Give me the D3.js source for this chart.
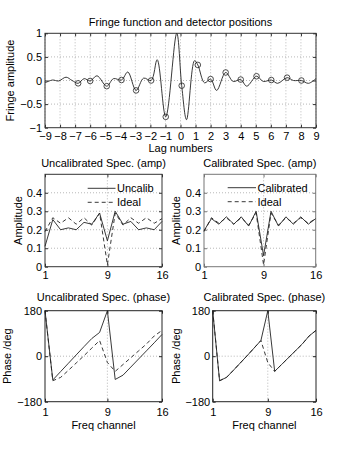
<!DOCTYPE html>
<html><head><meta charset="utf-8">
<script src="https://cdn.jsdelivr.net/npm/d3@7"></script>
<style>
body{margin:0;background:#fff;}
text{font-family:"Liberation Sans",Arial,Helvetica,sans-serif;font-size:11px;fill:#000;}
</style></head><body><svg id="c" width="349" height="453"></svg>
<script>
// ---- Data ----
const lagX = [-9, -8.5, -8.1, -7.6, -7.2, -6.8, -6.4, -6.0, -5.55, -4.9, -4.45, -3.92, -3.5, -2.95, -2.45, -1.95, -1.55, -0.98, -0.25, 0.08, 0.4, 0.93, 1.15, 1.6, 2.0, 2.4, 3.0, 3.5, 4.0, 4.4, 5.05, 5.5, 6.03, 6.45, 7.08, 7.5, 8.03, 8.5, 9.0];
const fringeY = [-0.05, 0.01, -0.01, 0.07, 0.0, -0.06, 0.04, -0.01, 0.1, -0.12, 0.04, 0.01, 0.18, -0.21, 0.05, 0.0, 0.44, -0.77, 1.0, -0.11, -0.83, 0.42, 0.33, -0.05, 0.03, -0.21, 0.17, -0.02, 0.02, -0.12, 0.09, -0.02, 0.01, -0.06, 0.06, 0.0, 0.0, -0.06, 0.04];
const detX = [-6.8, -6.0, -4.9, -3.92, -2.95, -1.95, -0.98, 0.08, 1.15, 2.0, 3.0, 4.0, 5.05, 6.03, 7.08, 8.03];
const detY = [-0.06, -0.01, -0.12, 0.01, -0.21, 0.0, -0.77, -0.11, 0.33, 0.03, 0.17, 0.02, 0.09, 0.01, 0.06, 0.0];
const lagTicks = [-9,-8,-7,-6,-5,-4,-3,-2,-1,0,1,2,3,4,5,6,7,8,9];
const fringeTicks = [-1,-0.5,0,0.5,1];

const channels = d3.range(1, 17);
const chanTicks = [1, 9, 16];
const uncalibAmp = [0.11, 0.255, 0.20, 0.21, 0.20, 0.24, 0.23, 0.29, 0.14, 0.30, 0.23, 0.245, 0.20, 0.21, 0.20, 0.245];
const calibAmp   = [0.195, 0.26, 0.23, 0.27, 0.23, 0.27, 0.22, 0.30, 0.06, 0.30, 0.22, 0.27, 0.23, 0.27, 0.23, 0.26];
const idealAmp   = [0.19, 0.265, 0.235, 0.265, 0.23, 0.265, 0.225, 0.29, 0.01, 0.29, 0.225, 0.265, 0.235, 0.265, 0.235, 0.26];
const ampTicks = [0, 0.1, 0.2, 0.3, 0.4];

const uncalibPhase = [180, -94, -61, -28, 5, 38, 70, 94, 180, -92, -75, -43, -11, 21, 53, 86];
const calibPhase   = [180, -97, -84, -56, -27, 2, 32, 62, 180, -60, -33, -6, 21, 48, 80, 102];
const idealPhase   = [180, -97, -84, -56, -27, 2, 32, 62, -25, -60, -33, -6, 21, 48, 80, 102];
const phaseTicks = [-180, 0, 180];

// ---- Drawing ----
const svg = d3.select("#c");
const fmt = d3.format("");

function panel(o){
  const x = d3.scaleLinear().domain(o.xDomain).range([o.x0, o.x1]);
  const y = d3.scaleLinear().domain(o.yDomain).range([o.y1, o.y0]);
  const g = svg.append("g");
  // grid
  g.append("g").selectAll("line").data(o.xGrid).join("line")
    .attr("x1", d => x(d)).attr("x2", d => x(d)).attr("y1", o.y0).attr("y2", o.y1)
    .attr("stroke", "#999").attr("stroke-width", 0.7).attr("stroke-dasharray", "1,2");
  g.append("g").selectAll("line").data(o.yGrid).join("line")
    .attr("y1", d => y(d)).attr("y2", d => y(d)).attr("x1", o.x0).attr("x2", o.x1)
    .attr("stroke", "#999").attr("stroke-width", 0.7).attr("stroke-dasharray", "1,2");
  // axes with inward ticks
  const tl = 3;
  const ax = g.append("g").attr("transform", `translate(0,${o.y1})`)
    .call(d3.axisBottom(x).tickValues(o.xTicks).tickFormat(fmt).tickSizeInner(-tl).tickSizeOuter(0).tickPadding(o.xPad));
  const axT = g.append("g").attr("transform", `translate(0,${o.y0})`)
    .call(d3.axisTop(x).tickValues(o.xTicks).tickFormat("").tickSizeInner(-tl).tickSizeOuter(0));
  const ay = g.append("g").attr("transform", `translate(${o.x0},0)`)
    .call(d3.axisLeft(y).tickValues(o.yTicks).tickFormat(fmt).tickSizeInner(-tl).tickSizeOuter(0).tickPadding(o.yPad));
  const ayR = g.append("g").attr("transform", `translate(${o.x1},0)`)
    .call(d3.axisRight(y).tickValues(o.yTicks).tickFormat("").tickSizeInner(-tl).tickSizeOuter(0));
  [ax, axT, ay, ayR].forEach(a => {
    a.select(".domain").remove();
    a.selectAll(".tick line").attr("stroke", o.boxColor);
    a.selectAll("text").style("font-family", '"Liberation Sans",Arial,sans-serif').style("font-size", "11px").attr("fill", "#000");
  });
  // box
  g.append("rect").attr("x", o.x0).attr("y", o.y0).attr("width", o.x1 - o.x0).attr("height", o.y1 - o.y0)
    .attr("fill", "none").attr("stroke", o.boxColor).attr("stroke-width", 1);
  // title
  g.append("text").attr("x", (o.x0 + o.x1) / 2).attr("y", o.titleY).attr("text-anchor", "middle").text(o.title);
  if (o.xLabel) g.append("text").attr("x", (o.x0 + o.x1) / 2).attr("y", o.xLabelY).attr("text-anchor", "middle").text(o.xLabel);
  g.append("text").attr("transform", `translate(${o.yLabelX},${(o.y0 + o.y1) / 2}) rotate(-90)`)
    .attr("dy", "0.35em").attr("text-anchor", "middle").text(o.yLabel);
  return {x, y, g};
}

function drawLine(p, xs, ys, dash, curve){
  const pts = xs.map((v, i) => [v, ys[i]]);
  const line = d3.line().x(d => p.x(d[0])).y(d => p.y(d[1])).curve(curve || d3.curveLinear);
  p.g.append("path").datum(pts).attr("d", line).attr("fill", "none")
    .attr("stroke", "#222").attr("stroke-width", 0.9)
    .attr("stroke-dasharray", dash ? "4,3" : null);
}

function legend(p, lx0, lx1, ly, entries){
  entries.forEach((e, i) => {
    const yy = ly + i * 14;
    p.g.append("line").attr("x1", lx0).attr("x2", lx1).attr("y1", yy).attr("y2", yy)
      .attr("stroke", "#222").attr("stroke-width", 0.9).attr("stroke-dasharray", e.dash ? "4,3" : null);
    p.g.append("text").attr("x", lx1 + 1.5).attr("y", yy).attr("dy", "0.35em").text(e.label);
  });
}

// Top: fringe
const pTop = panel({x0: 45, x1: 316, y0: 33.3, y1: 127.7, xDomain: [-9, 9], yDomain: [-1, 1],
  xTicks: lagTicks, yTicks: fringeTicks, xGrid: lagTicks, yGrid: [-0.5, 0, 0.5],
  xPad: 5, yPad: 3, boxColor: "#333", title: "Fringe function and detector positions", titleY: 25.5,
  xLabel: "Lag numbers", xLabelY: 152, yLabel: "Fringe amplitude", yLabelX: 10});
drawLine(pTop, lagX, fringeY, false, d3.curveCatmullRom.alpha(0.5));
pTop.g.selectAll("circle").data(detX.map((v, i) => [v, detY[i]])).join("circle")
  .attr("cx", d => pTop.x(d[0])).attr("cy", d => pTop.y(d[1])).attr("r", 2.8)
  .attr("fill", "none").attr("stroke", "#222").attr("stroke-width", 0.8);

// Middle-left: uncalibrated amplitude
const pML = panel({x0: 45, x1: 162, y0: 174.3, y1: 266.7, xDomain: [1, 16], yDomain: [0, 0.5],
  xTicks: chanTicks, yTicks: ampTicks, xGrid: [9], yGrid: [0.1, 0.2, 0.3, 0.4],
  xPad: 5, yPad: 3, boxColor: "#333", title: "Uncalibrated Spec. (amp)", titleY: 167,
  yLabel: "Amplitude", yLabelX: 18});
drawLine(pML, channels, uncalibAmp, false);
drawLine(pML, channels, idealAmp, true);
legend(pML, 87.7, 115.5, 188.3, [{label: "Uncalib"}, {label: "Ideal", dash: true}]);

// Middle-right: calibrated amplitude
const pMR = panel({x0: 204, x1: 315.7, y0: 174.3, y1: 266.7, xDomain: [1, 16], yDomain: [0, 0.5],
  xTicks: chanTicks, yTicks: ampTicks, xGrid: [9], yGrid: [0.1, 0.2, 0.3, 0.4],
  xPad: 5, yPad: 3, boxColor: "#777", title: "Calibrated Spec. (amp)", titleY: 167,
  yLabel: "Amplitude", yLabelX: 176});
drawLine(pMR, channels, calibAmp, false);
drawLine(pMR, channels, idealAmp, true);
legend(pMR, 227.7, 256, 187.7, [{label: "Calibrated"}, {label: "Ideal", dash: true}]);

// Bottom-left: uncalibrated phase
const pBL = panel({x0: 45, x1: 162, y0: 310.7, y1: 401.7, xDomain: [1, 16], yDomain: [-180, 180],
  xTicks: chanTicks, yTicks: phaseTicks, xGrid: [9], yGrid: [0],
  xPad: 7, yPad: 3, boxColor: "#222", title: "Uncalibrated Spec. (phase)", titleY: 300.5,
  xLabel: "Freq channel", xLabelY: 429, yLabel: "Phase /deg", yLabelX: 7});
drawLine(pBL, channels, uncalibPhase, false);
drawLine(pBL, channels, idealPhase, true);

// Bottom-right: calibrated phase
const pBR = panel({x0: 212.7, x1: 316, y0: 310.7, y1: 401.7, xDomain: [1, 16], yDomain: [-180, 180],
  xTicks: chanTicks, yTicks: phaseTicks, xGrid: [9], yGrid: [0],
  xPad: 7, yPad: 2.5, boxColor: "#222", title: "Calibrated Spec. (phase)", titleY: 300.5,
  xLabel: "Freq channel", xLabelY: 429, yLabel: "Phase /deg", yLabelX: 176});
drawLine(pBR, channels, calibPhase, false);
drawLine(pBR, channels, idealPhase, true);
</script></body></html>
